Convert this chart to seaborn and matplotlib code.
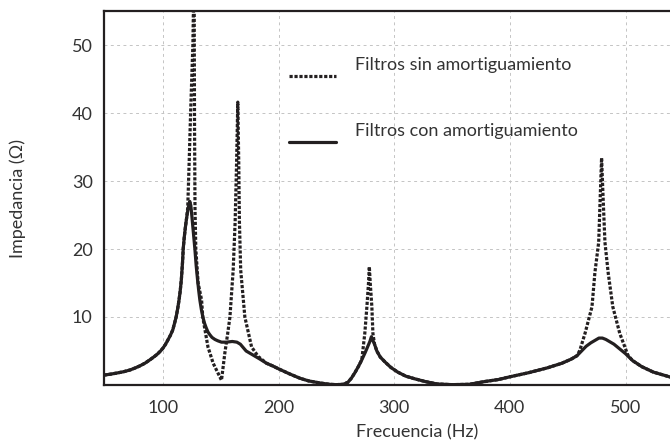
import matplotlib
matplotlib.use("Agg")
import matplotlib.pyplot as plt
import seaborn as sns
import pandas as pd

# Impedance of the harmonic filter bank versus frequency
freq_damped = [49, 55, 60, 66, 71.5, 76, 80, 84.5, 88.8, 92, 95, 98, 100, 102, 104,
               106.5, 108.6, 110, 111.5, 113, 114, 115, 116, 117, 117.6, 118.5,
               119.5, 120.5, 121.5, 122.5, 123.3, 124.2, 125, 126.3, 127.7, 128.8,
               130, 131, 132, 133.3, 134.6, 136, 137.5, 139, 140.6, 142.5, 145,
               147.5, 150.7, 155, 160, 164, 167, 170, 172, 175, 178, 184, 189.6,
               195, 201, 210, 218.4, 226, 235.7, 244, 250, 256, 260, 263, 266, 269,
               272, 275, 277, 279, 280.3, 281.5, 283, 285, 288, 292, 297, 303, 310,
               318, 327, 337, 350, 365, 378, 390, 400, 416, 432, 445, 453, 458, 462,
               466, 470, 474, 477, 480, 483, 486, 490, 495, 500, 506, 514, 524, 538,
               550]
imp_damped = [1.45, 1.6, 1.75, 1.95, 2.2, 2.5, 2.8, 3.2, 3.7, 4.1, 4.5, 5.0, 5.4, 5.9,
              6.5, 7.3, 8.1, 9.0, 10.0, 11.4, 12.5, 13.8, 15.5, 18.0, 20.0, 21.7,
              23.2, 24.5, 25.6, 26.5, 27.0, 26.4, 25.0, 22.6, 20.0, 17.6,
              15.5, 13.9, 12.5, 11.1, 10.0, 9.1, 8.4, 7.8, 7.4, 7.0, 6.7,
              6.5, 6.3, 6.3, 6.4, 6.3, 6.0, 5.4, 5.0, 4.7, 4.4, 3.8, 3.2,
              2.8, 2.3, 1.6, 1.0, 0.6, 0.3, 0.1, 0.05, 0.1, 0.4, 1.0, 1.8, 2.7,
              3.7, 4.8, 5.6, 6.4, 7.1, 6.6, 6.0, 5.0, 4.1, 3.4, 2.6, 1.9, 1.3,
              0.9, 0.5, 0.15, 0.05, 0.1, 0.5, 0.8, 1.2, 1.8, 2.5, 3.2, 3.8, 4.3, 5.0,
              5.7, 6.2, 6.6, 6.9, 6.9, 6.7, 6.4, 6.0, 5.3, 4.6, 3.6, 2.7, 1.9, 1.2,
              1.0]

freq_undamped = [49, 55, 60, 66, 71.5, 76, 80, 84.5, 88.8, 92, 95, 98, 100, 102, 104,
                 106.5, 108.6, 110, 111.5, 113, 114, 115, 116, 117, 117.6, 118.5,
                 119.5, 120.5, 121.5, 122.8, 124, 126, 127, 127.4, 127.8, 128.5,
                 130.5, 133.5, 134.5, 139, 143.5, 150.7, 153.6, 156, 158, 160.8,
                 162.5, 163.8, 164.8, 165.6, 166.2, 167.3, 170.9, 176.7, 182.4,
                 189.6, 195, 201, 210, 218.4, 226, 235.7, 244, 250, 256, 260, 263,
                 266, 269, 272, 274.6, 276.4, 277.8, 278.5, 279.3, 280.7, 281.6, 283,
                 285, 288, 292, 297, 303, 310, 318, 327, 337, 350, 365, 378, 390, 400,
                 416, 432, 445, 453, 458, 460.5, 465, 471, 473.5, 476.8, 478.2, 479.3,
                 480.5, 482.2, 485, 489, 495, 502, 506, 514, 524, 538, 550]
imp_undamped = [1.45, 1.6, 1.75, 1.95, 2.2, 2.5, 2.8, 3.2, 3.7, 4.1, 4.5, 5.0, 5.4, 5.9,
                6.5, 7.3, 8.1, 9.0, 10.0, 11.4, 12.5, 13.8, 15.5, 18.0, 20.0, 21.7,
                23.2, 24.5, 26.0, 33.0, 40.0, 50.2, 62.0, 38.0, 26.0, 20.0,
                15.0, 12.5, 10.0, 5.6, 3.2, 0.7, 4.7, 7.5, 10.0, 16.9,
                24.0, 33.0, 41.6, 33.0, 24.0, 16.9, 10.0, 5.6, 4.2,
                3.2, 2.8, 2.3, 1.6, 1.0, 0.6, 0.3, 0.1, 0.05, 0.1, 0.4, 1.0,
                1.8, 2.7, 3.7, 7.6, 11.5, 15.0, 17.4, 15.0, 11.5, 7.6, 6.0,
                5.0, 4.1, 3.4, 2.6, 1.9, 1.3, 0.9, 0.5, 0.15, 0.05, 0.1, 0.5, 0.8, 1.2,
                1.8, 2.5, 3.2, 3.8, 4.3, 5.1, 7.6, 11.5, 16.5, 21.0, 28.0, 33.4,
                28.0, 21.0, 16.5, 11.5, 7.6, 4.4, 3.6, 2.7, 1.9, 1.2, 1.0]

x_ticks = [100, 200, 300, 400, 500]
y_ticks = [10, 20, 30, 40, 50]
label_undamped = "Filtros sin amortiguamiento"
label_damped = "Filtros con amortiguamiento"

ink = "#231f20"
text_col = "#333333"

sns.set_theme(style="white")
plt.rcParams["font.family"] = ["Lato", "DejaVu Sans"]

fig = plt.figure(figsize=(6.7, 4.41), dpi=100)
ax = fig.add_axes([0.155, 0.127, 0.934, 0.848])

df_d = pd.DataFrame({"f": freq_damped, "z": imp_damped})
df_u = pd.DataFrame({"f": freq_undamped, "z": imp_undamped})

sns.lineplot(data=df_u, x="f", y="z", ax=ax, sort=False, estimator=None,
             color=ink, lw=2.3, linestyle=(0, (1.0, 0.55)),
             dash_capstyle="butt", zorder=3)
sns.lineplot(data=df_d, x="f", y="z", ax=ax, sort=False, estimator=None,
             color=ink, lw=2.3, solid_joinstyle="round", zorder=4)

ax.set_xlim(49, 590)
ax.set_ylim(0, 55)
ax.set_xticks(x_ticks)
ax.set_yticks(y_ticks)
ax.tick_params(length=0, labelsize=13, colors=text_col, pad=8)
ax.tick_params(axis="x", pad=11)
ax.grid(True, color="#c4c4c4", lw=0.7, linestyle=(0, (3, 3.5)))
ax.set_axisbelow(True)

for side in ("left", "top", "bottom"):
    ax.spines[side].set_color(ink)
    ax.spines[side].set_linewidth(1.6)
ax.spines["right"].set_visible(False)

ax.set_xlabel("Frecuencia (Hz)", fontsize=13, color=text_col, labelpad=6)
ax.set_ylabel("Impedancia (Ω)", fontsize=13, color=text_col, labelpad=33)

# Legend keys with their labels placed above-right
ax.plot([209, 250], [45.4, 45.4], color=ink, lw=2.3,
        linestyle=(0, (1.0, 0.55)), dash_capstyle="butt")
ax.plot([209, 250], [35.7, 35.7], color=ink, lw=2.3)
ax.text(266, 47.0, label_undamped, fontsize=13, color=text_col, va="center")
ax.text(266, 37.4, label_damped, fontsize=13, color=text_col, va="center")

fig.savefig("out.png", dpi=100)
